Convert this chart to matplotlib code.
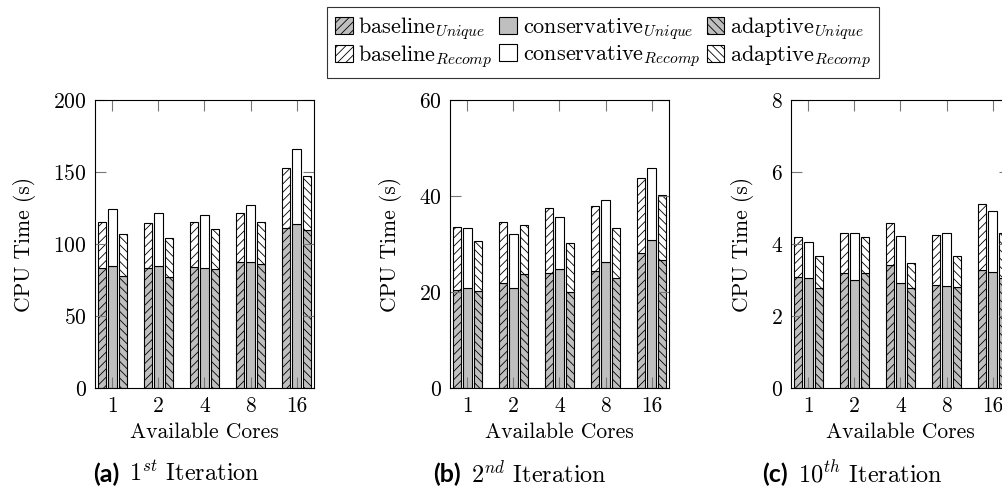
import numpy as np
import matplotlib
matplotlib.use('Agg')
import matplotlib.pyplot as plt
from matplotlib.patches import Patch

plt.rcParams['font.family'] = 'serif'
plt.rcParams['font.serif'] = ['cmr10', 'DejaVu Serif']
plt.rcParams['mathtext.fontset'] = 'cm'
plt.rcParams['axes.formatter.use_mathtext'] = True
plt.rcParams['hatch.linewidth'] = 0.6

# 資料：每個迭代的 unique / recomp CPU 時間
cores = ['1', '2', '4', '8', '16']

b1_unique = [83.6, 83.1, 84.3, 87.3, 110.9]
b1_recomp = [31.9, 31.7, 30.7, 34.5, 42.1]
c1_unique = [84.9, 84.5, 83.1, 87.7, 113.7]
c1_recomp = [39.4, 37.3, 37.0, 39.2, 52.0]
a1_unique = [78.0, 77.3, 82.4, 86.1, 110.0]
a1_recomp = [28.7, 27.1, 27.8, 28.9, 37.2]

b2_unique = [20.4, 21.9, 24.0, 24.4, 28.1]
b2_recomp = [13.1, 12.7, 13.4, 13.6, 15.6]
c2_unique = [20.8, 20.8, 24.8, 26.3, 30.8]
c2_recomp = [12.5, 11.3, 10.9, 12.9, 15.0]
a2_unique = [20.2, 23.7, 19.9, 23.0, 26.7]
a2_recomp = [10.4, 10.3, 10.4, 10.3, 13.6]

b3_unique = [3.07, 3.19, 3.42, 2.85, 3.28]
b3_recomp = [1.13, 1.12, 1.17, 1.39, 1.83]
c3_unique = [3.06, 2.99, 2.92, 2.84, 3.22]
c3_recomp = [1.00, 1.32, 1.30, 1.47, 1.71]
a3_unique = [2.79, 3.19, 2.79, 2.81, 3.06]
a3_recomp = [0.89, 1.00, 0.67, 0.85, 1.25]

panels = [
    ([b1_unique, c1_unique, a1_unique], [b1_recomp, c1_recomp, a1_recomp], 200, [0, 50, 100, 150, 200]),
    ([b2_unique, c2_unique, a2_unique], [b2_recomp, c2_recomp, a2_recomp], 60, [0, 20, 40, 60]),
    ([b3_unique, c3_unique, a3_unique], [b3_recomp, c3_recomp, a3_recomp], 8, [0, 2, 4, 6, 8]),
]
captions = [('(a)', r'$1^{st}$ Iteration'), ('(b)', r'$2^{nd}$ Iteration'), ('(c)', r'$10^{th}$ Iteration')]

grey = '#bfbfbf'
hatches = ['////', '', '\\\\\\\\']
offsets = [-0.23, 0.0, 0.23]
bar_w = 0.18

W, H = 1003, 495
fig = plt.figure(figsize=(W / 100, H / 100), dpi=100)

lefts = [95, 450, 791]
x = np.arange(1, len(cores) + 1)

for i, (uniq, recomp, ymax, yticks) in enumerate(panels):
    ax = fig.add_axes([lefts[i] / W, 1 - 388 / H, 219 / W, 288 / H])
    for j in range(3):
        ax.bar(x + offsets[j], uniq[j], width=bar_w, color=grey, hatch=hatches[j],
               edgecolor='black', linewidth=0.8)
        ax.bar(x + offsets[j], recomp[j], width=bar_w, bottom=uniq[j], color='white',
               hatch=hatches[j], edgecolor='black', linewidth=0.8)
    ax.set_xlim(0.62, 5.38)
    ax.set_ylim(0, ymax)
    ax.set_xticks(x)
    ax.set_xticklabels(cores)
    ax.set_yticks(yticks)
    ax.tick_params(direction='in', top=True, right=True, length=8, width=0.8,
                   color='#777777', labelsize=15.5, pad=6)
    for s in ax.spines.values():
        s.set_linewidth(0.8)
    ax.set_xlabel('Available Cores', fontsize=15.5, labelpad=5)
    ax.set_ylabel('CPU Time (s)', fontsize=15.5, labelpad=12)

# 子圖標題
cap_x = [119, 461, 788]
for i, (tag, txt) in enumerate(captions):
    fig.text(cap_x[i] / W, 1 - 474 / H, tag, ha='right', va='center', fontsize=18,
             family='Lato', weight='bold')
    fig.text((cap_x[i] + 10) / W, 1 - 474 / H, txt, ha='left', va='center', fontsize=17.5)

# 圖例
names = ['baseline', 'conservative', 'adaptive']
handles = []
labels = []
for j in range(3):
    handles.append(Patch(facecolor=grey, edgecolor='black', hatch=hatches[j], linewidth=0.8))
    labels.append(names[j] + r'$_{Unique}$')
    handles.append(Patch(facecolor='white', edgecolor='black', hatch=hatches[j], linewidth=0.8))
    labels.append(names[j] + r'$_{Recomp}$')

leg = fig.legend(handles, labels, ncol=3, loc='upper center', bbox_to_anchor=(603 / W, 1 - 7 / H),
                 fontsize=16, frameon=True, fancybox=False, edgecolor='black',
                 handlelength=0.8, handleheight=0.8, handletextpad=0.25, columnspacing=0.3,
                 labelspacing=0.05, borderpad=0.35, borderaxespad=0)
leg.get_frame().set_linewidth(0.8)

plt.savefig('out.png', dpi=100)
plt.close()
